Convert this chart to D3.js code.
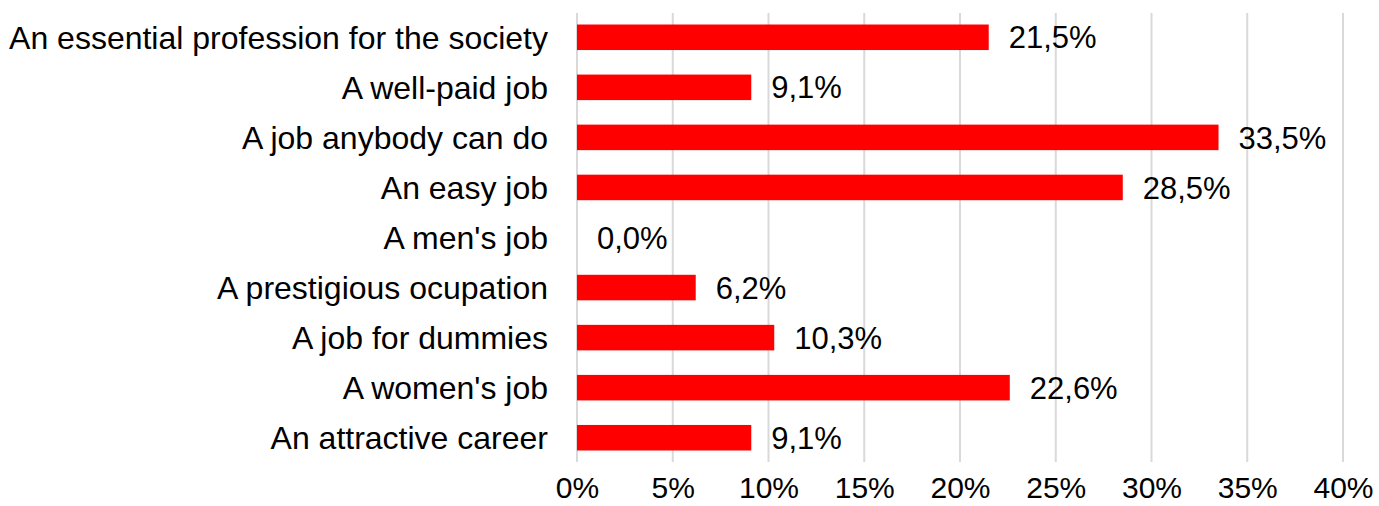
<!DOCTYPE html>
<html>
<head>
<meta charset="utf-8">
<script src="https://cdn.jsdelivr.net/npm/d3@7"></script>
<style>
  body { margin: 0; background: #fff; }
  text { font-family: 'Liberation Sans', Arial, sans-serif; fill: #000; }
</style>
</head>
<body>
<div id="chart"></div>
<script>
const categories = [
  'An essential profession for the society',
  'A well-paid job',
  'A job anybody can do',
  'An easy job',
  "A men's job",
  'A prestigious ocupation',
  'A job for dummies',
  "A women's job",
  'An attractive career'
]
const values = [21.5, 9.1, 33.5, 28.5, 0.0, 6.2, 10.3, 22.6, 9.1]
const tickValues = [0, 5, 10, 15, 20, 25, 30, 35, 40]

const margin = { top: 13, left: 577, right: 36, bottom: 44 }
const width = 1379 - margin.left - margin.right
const height = 506 - margin.top - margin.bottom

const data = categories.map((c, i) => ({ label: c, value: values[i] }))

const svg = d3
  .select('#chart')
  .append('svg')
  .attr('width', 1379)
  .attr('height', 506)
  .append('g')
  .attr('transform', 'translate(' + margin.left + ',' + margin.top + ')')

const xPositionScale = d3.scaleLinear().domain([0, 40]).range([0, width])

const yPositionScale = d3
  .scaleBand()
  .domain(categories)
  .range([0, height])
  .paddingInner(0.49)
  .paddingOuter(0.23)

// gridlines
svg
  .selectAll('.grid')
  .data(tickValues)
  .enter()
  .append('line')
  .attr('class', 'grid')
  .attr('x1', d => xPositionScale(d))
  .attr('x2', d => xPositionScale(d))
  .attr('y1', 0)
  .attr('y2', height)
  .attr('stroke', '#d9d9d9')
  .attr('stroke-width', 2)

svg
  .selectAll('.bar')
  .data(data)
  .enter()
  .append('rect')
  .attr('class', 'bar')
  .attr('x', xPositionScale(0))
  .attr('y', d => yPositionScale(d.label))
  .attr('width', d => xPositionScale(d.value) - xPositionScale(0))
  .attr('height', yPositionScale.bandwidth())
  .attr('fill', '#ff0000')

svg
  .selectAll('.value')
  .data(data)
  .enter()
  .append('text')
  .attr('class', 'value')
  .text(d => d.value.toFixed(1).replace('.', ',') + '%')
  .attr('x', d => xPositionScale(d.value) + 20)
  .attr('y', d => yPositionScale(d.label) + yPositionScale.bandwidth() / 2)
  .attr('dy', '0.36em')
  .attr('font-size', 31)

const yAxis = d3.axisLeft(yPositionScale).tickSize(0).tickPadding(29)
svg
  .append('g')
  .attr('class', 'axis y-axis')
  .call(yAxis)
  .call(g => g.select('.domain').remove())
  .selectAll('text')
  .attr('font-size', 32)
  .attr('dy', '0.36em')

const xAxis = d3
  .axisBottom(xPositionScale)
  .tickValues(tickValues)
  .tickSize(0)
  .tickFormat(d => d + '%')
svg
  .append('g')
  .attr('class', 'axis x-axis')
  .attr('transform', 'translate(0,' + height + ')')
  .call(xAxis)
  .call(g => g.select('.domain').remove())
  .selectAll('text')
  .attr('font-size', 30)
  .attr('y', 36)
  .attr('dy', 0)
</script>
</body>
</html>
